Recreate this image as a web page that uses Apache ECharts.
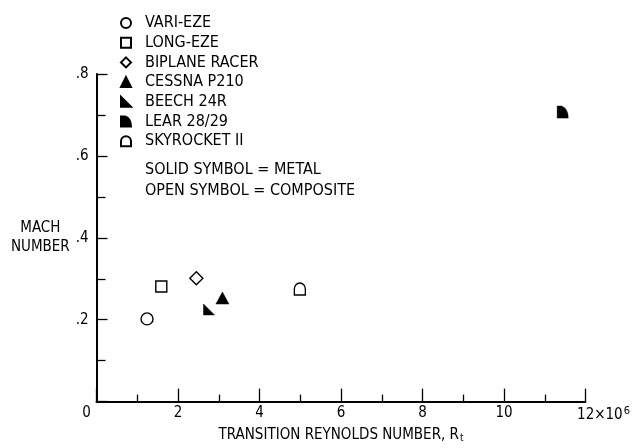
<!DOCTYPE html>
<html>
<head>
<meta charset="utf-8">
<script src="https://cdn.jsdelivr.net/npm/echarts@6/dist/echarts.min.js"></script>
<style>html,body{margin:0;padding:0;background:#fff}#c{width:633px;height:448px}</style>
</head>
<body>
<div id="c"></div>
<script>
// ---- data ----
const aircraft = ['VARI-EZE', 'LONG-EZE', 'BIPLANE RACER', 'CESSNA P210', 'BEECH 24R', 'LEAR 28/29', 'SKYROCKET II'];
const reynolds = [1.24, 1.59, 2.45, 3.09, 2.76, 11.44, 4.99];   // x 10^6
const mach = [0.202, 0.281, 0.301, 0.253, 0.225, 0.707, 0.275];
const metal = [false, false, false, true, true, true, false];
const xTicks = [0, 2, 4, 6, 8, 10, 12];
const yTicks = [0, 0.2, 0.4, 0.6, 0.8];
const notes = ['SOLID SYMBOL = METAL', 'OPEN SYMBOL = COMPOSITE'];

const FONT = "'Liberation Sans Narrow', 'DejaVu Sans Condensed', 'Liberation Sans', sans-serif";
const symbols = [
  'circle',
  'rect',
  'diamond',
  'triangle',
  'path://M0,0 L0,10 L10,10 Z',
  'path://M0,10 L0,0 L4,0 Q10,2 10,10 Z',
  'path://M0,10 L0,5 A5,5 0 0 1 10,5 L10,10 Z'
];
const sizes = [12, 11, [13, 13], [13, 12], [11, 11], [11, 12], [11, 12]];

const chart = echarts.init(document.getElementById('c'), null, {renderer: 'canvas'});

const series = aircraft.map((name, i) => ({
  name: name,
  type: 'scatter',
  data: [[reynolds[i], mach[i]]],
  symbol: symbols[i],
  symbolSize: sizes[i],
  clip: false,
  itemStyle: metal[i]
    ? {color: '#000', borderColor: '#000', borderWidth: 0.5, opacity: 1}
    : {color: '#fff', borderColor: '#000', borderWidth: 1.4, opacity: 1},
  emphasis: {disabled: true}
}));

chart.setOption({
  animation: false,
  backgroundColor: '#fff',
  grid: {left: 96.5, right: 46, top: 74, bottom: 44},
  legend: {
    orient: 'vertical',
    left: 115,
    top: 10,
    itemWidth: 10,
    itemHeight: 10,
    itemGap: 3.7,
    selectedMode: false,
    data: aircraft,
    textStyle: {fontFamily: FONT, fontSize: 16, color: '#000', lineHeight: 14, padding: [0, 0, 0, 9]}
  },
  xAxis: {
    type: 'value',
    min: 0, max: 12, interval: 2,
    name: 'TRANSITION REYNOLDS NUMBER, R{sub|t}',
    nameLocation: 'middle',
    nameGap: 24,
    nameTextStyle: {fontFamily: FONT, fontSize: 15, color: '#000',
      rich: {sub: {fontFamily: FONT, fontSize: 10, color: '#000', verticalAlign: 'bottom', padding: [6, 0, 0, 1]}}},
    axisLine: {lineStyle: {color: '#000', width: 2}},
    axisTick: {inside: true, length: 13, lineStyle: {color: '#000', width: 1.3}},
    minorTick: {show: true, splitNumber: 2, length: 7, lineStyle: {color: '#000', width: 1.3}},
    splitLine: {show: false},
    axisLabel: {
      margin: 4,
      fontFamily: FONT, fontSize: 15, color: '#000',
      formatter: function (v) {
        if (xTicks.indexOf(v) < 0) return '';
        if (v === 0) return '{z|0}';
        if (v === 12) return '{n|12}{m|×10}{s|6}';
        return String(v);
      },
      rich: {
        z: {fontFamily: FONT, fontSize: 15, color: '#000', padding: [0, 20, 0, 0]},
        n: {fontFamily: FONT, fontSize: 15, color: '#000', padding: [0, 0, 0, 36]},
        m: {fontFamily: FONT, fontSize: 15, color: '#000'},
        s: {fontFamily: FONT, fontSize: 11, color: '#000', verticalAlign: 'top', padding: [0, 0, 8, 1]}
      }
    }
  },
  yAxis: {
    type: 'value',
    min: 0, max: 0.8, interval: 0.2,
    name: 'MACH\nNUMBER',
    nameLocation: 'middle',
    nameRotate: 0,
    nameGap: 54,
    nameTextStyle: {fontFamily: FONT, fontSize: 15, color: '#000', align: 'center', verticalAlign: 'middle', lineHeight: 19, padding: [8, 0, 0, 0]},
    axisLine: {lineStyle: {color: '#000', width: 2}},
    axisTick: {inside: true, length: 11, lineStyle: {color: '#000', width: 1.3}},
    minorTick: {show: true, splitNumber: 2, length: 9, lineStyle: {color: '#000', width: 1.3}},
    splitLine: {show: false},
    axisLabel: {
      margin: 8,
      fontFamily: FONT, fontSize: 15, color: '#000',
      formatter: function (v) {
        const t = yTicks.find(x => Math.abs(x - v) < 1e-9);
        if (t === undefined || t === 0) return '';
        return t.toFixed(1).replace(/^0/, '');
      }
    }
  },
  graphic: notes.map((t, i) => ({
    type: 'text',
    left: 145,
    top: 162 + i * 21,
    style: {text: t, fontFamily: FONT, fontSize: 16, fill: '#000'}
  })),
  series: series
});
</script>
</body>
</html>
